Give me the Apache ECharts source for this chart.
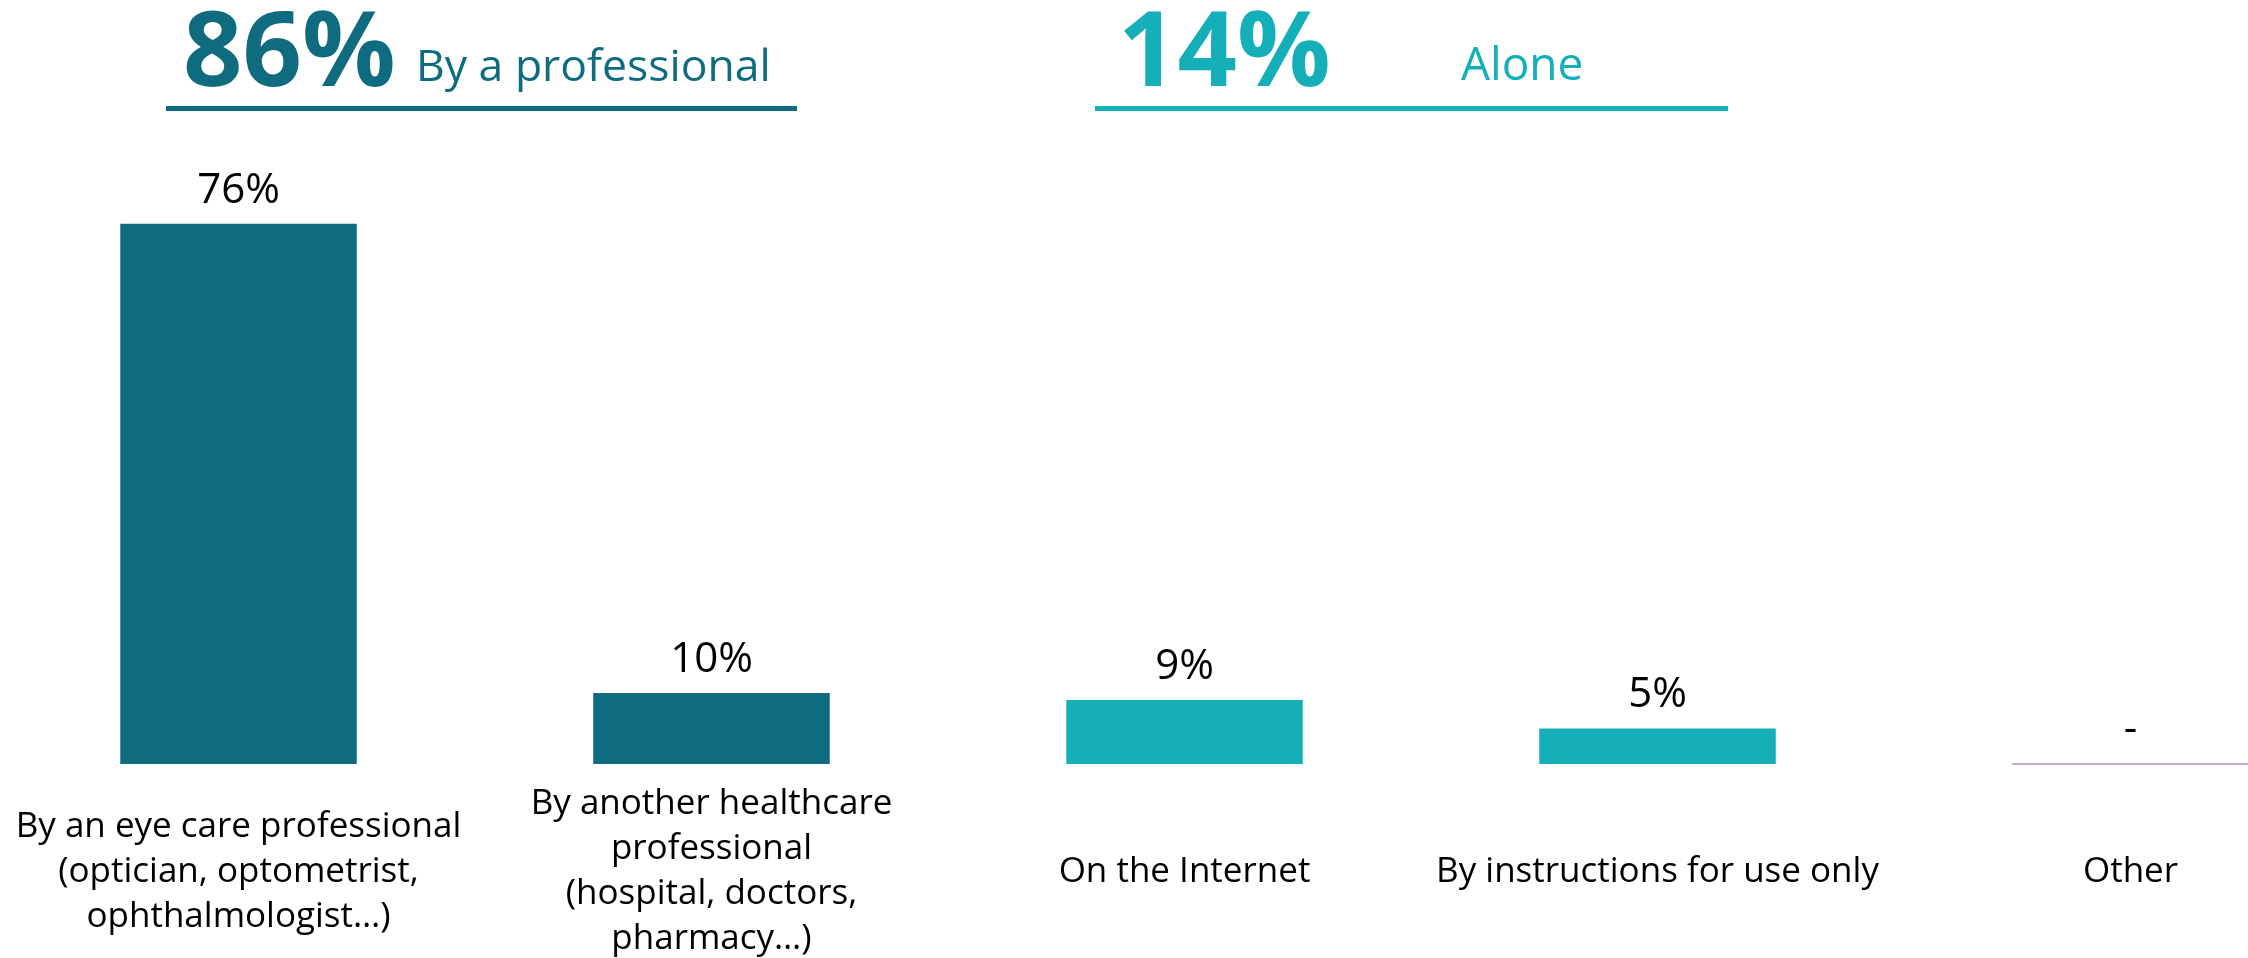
<!DOCTYPE html>
<html>
<head>
<meta charset="utf-8">
<title>How lenses were fitted</title>
<script src="https://cdn.jsdelivr.net/npm/echarts@6/dist/echarts.min.js"></script>
<style>
  html, body { margin: 0; padding: 0; background: #ffffff; overflow: hidden; }
  #chart { width: 2248px; height: 958px; }
</style>
</head>
<body>
<div id="chart"></div>
<script>
// Categories and shares (%)
const categories = [
  'By an eye care professional\n(optician, optometrist,\nophthalmologist…)',
  'By another healthcare\nprofessional\n(hospital, doctors,\npharmacy…)',
  'On the Internet',
  'By instructions for use only',
  'Other'
];
const values = [76, 10, 9, 5, 0];
const valueLabels = ['76%', '10%', '9%', '5%', '-'];

// Group headers: total share and group name
const groupTotals = ['86%', '14%'];
const groupNames = ['By a professional', 'Alone'];

const DARK = '#0F6B80';
const LIGHT = '#14AFB8';
const OTHER = '#B48CC8';
const barColors = [DARK, DARK, LIGHT, LIGHT, 'rgba(0,0,0,0)'];
const FONT = '"Open Sans", "Noto Sans", sans-serif';

const chart = echarts.init(document.getElementById('chart'), null, { renderer: 'canvas' });

const seriesData = values.map((v, i) => ({
  value: v,
  itemStyle: i === 4
    ? { color: 'rgba(0,0,0,0)', borderColor: OTHER, borderWidth: 1.5 }
    : { color: barColors[i] }
}));

chart.setOption({
  animation: false,
  backgroundColor: '#ffffff',
  // the last slot runs past the right edge of the canvas
  grid: { left: 2, width: 2365, top: 53, bottom: 194, containLabel: false, outerBoundsMode: 'none' },
  xAxis: {
    type: 'category',
    data: categories,
    axisLine: { show: false },
    axisTick: { show: false },
    axisLabel: {
      interval: 0,
      margin: 108,
      verticalAlign: 'middle',
      color: '#000000',
      fontFamily: FONT,
      fontSize: 35,
      lineHeight: 45
    }
  },
  yAxis: {
    type: 'value',
    min: 0,
    max: 100,
    show: false,
    splitLine: { show: false }
  },
  series: [{
    type: 'bar',
    data: seriesData,
    barCategoryGap: '50%',
    label: {
      show: true,
      position: 'top',
      distance: 12,
      color: '#000000',
      fontFamily: FONT,
      fontSize: 42,
      formatter: p => valueLabels[p.dataIndex]
    }
  }],
  graphic: [
    // Professional group header
    { type: 'text', left: 183, top: 4, style: { text: groupTotals[0], fill: DARK, font: 'bold 104px ' + FONT } },
    { type: 'text', left: 416, top: 46, style: { text: groupNames[0], fill: DARK, font: '44.5px ' + FONT } },
    { type: 'rect', shape: { x: 166, y: 106, width: 631, height: 5 }, style: { fill: DARK } },
    // Alone group header
    { type: 'text', left: 1118, top: 4, style: { text: groupTotals[1], fill: LIGHT, font: 'bold 104px ' + FONT } },
    { type: 'text', left: 1461, top: 44, style: { text: groupNames[1], fill: LIGHT, font: '46px ' + FONT } },
    { type: 'rect', shape: { x: 1095, y: 106, width: 633, height: 5 }, style: { fill: LIGHT } }
  ]
});
</script>
</body>
</html>
